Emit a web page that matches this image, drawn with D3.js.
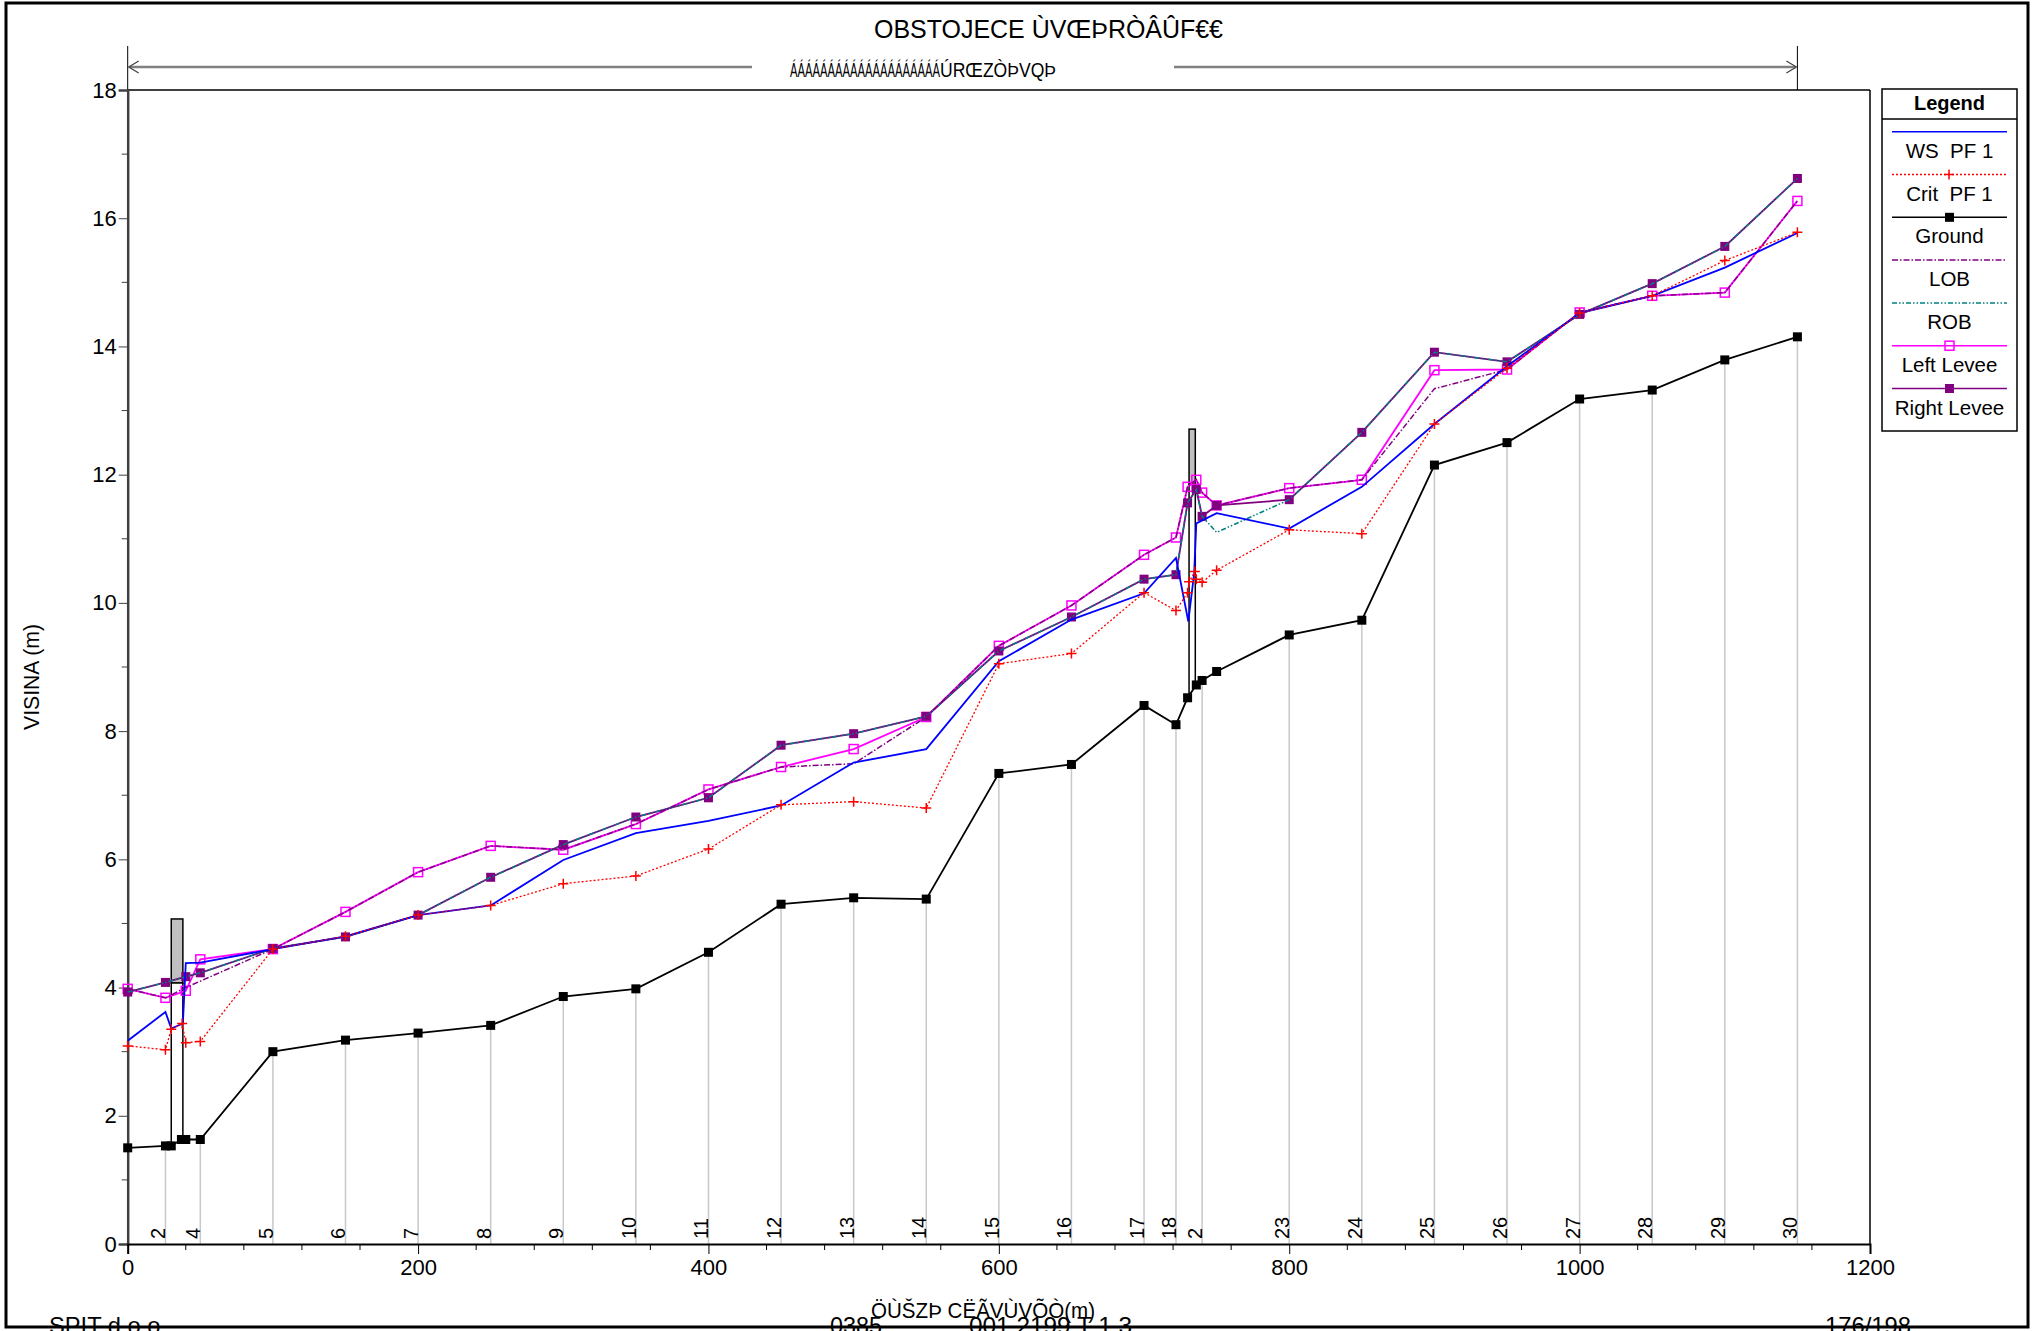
<!DOCTYPE html>
<html><head><meta charset="utf-8">
<script src="https://cdn.jsdelivr.net/npm/d3@7"></script>
<style>
html,body{margin:0;padding:0;background:#fff;}
svg{display:block;}
text{font-family:"Liberation Sans",Arial,sans-serif;}
</style></head>
<body>
<svg id="chart" width="2040" height="1331"></svg>
<script>
// ---------- DATA ----------
const titleText = "OBSTOJECE ÙVŒÞRÒÂÛF€€";
const arrowTextA = "ÁÁÁÁÁÁÁÁÁÁÁÁÁÁÁÁÁÁÁÁ";
const arrowTextB = "ÚRŒZÒÞVQÞ";
const yAxisTitle = "VISINA (m)";
const xAxisTitle = "ÖÙŠZÞ CËÃVÙVÕÒ(m)";
const footerTexts = ["SPIT d.o.o.", "0385", "001 2199 T 1.3", "176/198"];

const xTicks = [0, 200, 400, 600, 800, 1000, 1200];
const yTicks = [0, 2, 4, 6, 8, 10, 12, 14, 16, 18];

const groundX = [0,26,30,37,40,50,100,150,200,250,300,350,400,450,500,550,600,650,700,722,730,736,740,750,800,850,900,950,1000,1050,1100,1150];
const groundY = [1.50,1.53,1.53,1.63,1.63,1.63,3.00,3.18,3.29,3.41,3.86,3.98,4.55,5.30,5.40,5.38,7.34,7.48,8.40,8.10,8.52,8.72,8.79,8.93,9.50,9.73,12.15,12.50,13.18,13.32,13.79,14.15];

const wsX = [0,26,30,38,40,50,100,150,200,250,300,350,400,450,500,550,600,650,700,722,730.5,734.5,736,750,800,850,900,950,1000,1050,1100,1150];
const wsY = [3.17,3.62,3.36,3.44,4.38,4.39,4.60,4.80,5.13,5.28,5.99,6.41,6.60,6.84,7.51,7.72,9.09,9.74,10.15,10.70,9.71,10.46,11.24,11.40,11.16,11.81,12.79,13.69,14.52,14.79,15.23,15.77];

const critX = [0,26,30,37.5,40,50,100,150,200,250,300,350,400,450,500,550,600,650,700,722,730,731,735,736,740,750,800,850,900,950,1000,1050,1100,1150];
const critY = [3.09,3.03,3.35,3.44,3.14,3.16,4.60,4.80,5.13,5.28,5.62,5.74,6.16,6.85,6.90,6.80,9.05,9.21,10.16,9.88,10.16,10.33,10.49,10.37,10.32,10.51,11.14,11.08,12.79,13.66,14.52,14.79,15.34,15.78];

const leveeX = [0,26,40,50,100,150,200,250,300,350,400,450,500,550,600,650,700,722,730,736,740,750,800,850,900,950,1000,1050,1100,1150];
const leftLeveeY = [3.98,3.84,3.95,4.44,4.60,5.18,5.80,6.21,6.15,6.55,7.09,7.44,7.72,8.22,9.33,9.96,10.75,11.02,11.81,11.92,11.72,11.52,11.79,11.92,13.63,13.64,14.53,14.79,14.84,16.27];
const rightLeveeY = [3.93,4.08,4.17,4.23,4.61,4.79,5.13,5.72,6.23,6.66,6.96,7.78,7.96,8.23,9.25,9.78,10.37,10.44,11.56,11.77,11.35,11.52,11.61,12.66,13.91,13.76,14.50,14.98,15.56,16.62];
const lobY = [3.98,3.84,4.00,4.10,4.60,5.18,5.80,6.21,6.15,6.55,7.09,7.44,7.49,8.22,9.33,9.96,10.75,11.02,11.81,11.92,11.72,11.52,11.79,11.92,13.34,13.64,14.53,14.79,14.84,16.27];
const robY = [3.93,4.08,4.17,4.23,4.61,4.79,5.13,5.72,6.23,6.66,6.96,7.78,7.96,8.23,9.25,9.78,10.37,10.44,11.56,11.77,11.35,11.10,11.61,12.66,13.91,13.76,14.50,14.98,15.56,16.62];

const bridgeX0 = [30, 731];
const bridgeX1 = [38, 735.3];
const bridgeTop = [5.07, 12.71];
const bridgeLow = [4.07, 11.85];
const bridgeGroundL = [1.53, 8.55];
const bridgeGroundR = [1.63, 8.70];

const stationX = [26,50,100,150,200,250,300,350,400,450,500,550,600,650,700,722,740,800,850,900,950,1000,1050,1100,1150];
const stationLabels = ["2","4","5","6","7","8","9","10","11","12","13","14","15","16","17","18","2","23","24","25","26","27","28","29","30"];

const legendNames = ["WS  PF 1","Crit  PF 1","Ground","LOB","ROB","Left Levee","Right Levee"];

// ---------- SCALES ----------
const svg = d3.select("#chart");
const x = d3.scaleLinear().domain([0,1200]).range([127.7,1870]);
const y = d3.scaleLinear().domain([0,18]).range([1244,90]);

// frame
svg.append("rect").attr("x",6).attr("y",3).attr("width",2022).attr("height",1324)
  .attr("fill","none").attr("stroke","#000").attr("stroke-width",3);

// title
svg.append("text").attr("x",874).attr("y",38).attr("font-size",26)
  .attr("textLength",349).attr("lengthAdjust","spacingAndGlyphs").text(titleText);

// top arrow
const arrowY = 67;
const ag = svg.append("g");
ag.append("line").attr("x1",x(0)).attr("x2",x(0)).attr("y1",46).attr("y2",y(18)).attr("stroke","#000").attr("stroke-width",1);
ag.append("line").attr("x1",x(1150)).attr("x2",x(1150)).attr("y1",46).attr("y2",y(18)).attr("stroke","#000").attr("stroke-width",1);
ag.append("line").attr("x1",x(0)+2).attr("x2",752).attr("y1",arrowY).attr("y2",arrowY).attr("stroke","#808080").attr("stroke-width",2.5);
ag.append("line").attr("x1",1174).attr("x2",x(1150)-2).attr("y1",arrowY).attr("y2",arrowY).attr("stroke","#808080").attr("stroke-width",2.5);
ag.append("path").attr("d",`M${x(0)+11},${arrowY-6} L${x(0)+1},${arrowY} L${x(0)+11},${arrowY+6}`).attr("fill","none").attr("stroke","#404040").attr("stroke-width",1.2);
ag.append("path").attr("d",`M${x(1150)-11},${arrowY-6} L${x(1150)-1},${arrowY} L${x(1150)-11},${arrowY+6}`).attr("fill","none").attr("stroke","#404040").attr("stroke-width",1.2);
ag.append("text").attr("x",790).attr("y",77).attr("font-size",20)
  .attr("textLength",150).attr("lengthAdjust","spacingAndGlyphs").text(arrowTextA);
ag.append("text").attr("x",940).attr("y",77).attr("font-size",20)
  .attr("textLength",116).attr("lengthAdjust","spacingAndGlyphs").text(arrowTextB);

// station gray lines
const gIdx = v => groundX.indexOf(v);
svg.append("g").selectAll("line").data(stationX).join("line")
  .attr("x1",d=>x(d)).attr("x2",d=>x(d))
  .attr("y1",d=>y(groundY[gIdx(d)])).attr("y2",y(0))
  .attr("stroke","#c8c8c8").attr("stroke-width",1.5);

// station labels
svg.append("g").selectAll("text").data(stationX).join("text")
  .attr("transform",d=>`translate(${x(d)},1239) rotate(-90)`)
  .attr("font-size",20).text((d,i)=>stationLabels[i]);

// bridges
const bg = svg.append("g");
bridgeX0.forEach((bx,i)=>{
  bg.append("rect").attr("x",x(bx)).attr("y",y(bridgeTop[i]))
    .attr("width",x(bridgeX1[i])-x(bx)).attr("height",y(bridgeLow[i])-y(bridgeTop[i]))
    .attr("fill","#c0c0c0").attr("stroke","#000").attr("stroke-width",1.5);
  bg.append("path").attr("d",`M${x(bx)},${y(bridgeGroundL[i])} L${x(bx)},${y(bridgeLow[i])} L${x(bridgeX1[i])},${y(bridgeLow[i])} L${x(bridgeX1[i])},${y(bridgeGroundR[i])}`)
    .attr("fill","#fff").attr("stroke","#000").attr("stroke-width",1.5);
});

// axes frame
svg.append("line").attr("x1",x(0)).attr("x2",x(1200)).attr("y1",y(18)).attr("y2",y(18)).attr("stroke","#000").attr("stroke-width",1.5);
svg.append("line").attr("x1",x(1200)).attr("x2",x(1200)).attr("y1",y(18)).attr("y2",y(0)).attr("stroke","#000").attr("stroke-width",1.5);

// y axis
const yAxis = d3.axisLeft(y).tickValues(yTicks).tickSize(9).tickPadding(2).tickFormat(d3.format("d"));
const yg = svg.append("g").attr("transform",`translate(${x(0)},0)`).call(yAxis);
yg.select(".domain").attr("stroke","#404040").attr("stroke-width",2.5);
yg.selectAll(".tick line").attr("stroke","#404040").attr("stroke-width",1);
yg.selectAll(".tick text").attr("font-size",22).attr("font-family","Liberation Sans, Arial").attr("fill","#000");
const yMinor = d3.range(1,18,2);
svg.append("g").selectAll("line").data(yMinor).join("line")
  .attr("x1",x(0)-6).attr("x2",x(0)).attr("y1",d=>y(d)).attr("y2",d=>y(d)).attr("stroke","#404040");

// x axis
const xAxis = d3.axisBottom(x).tickValues(xTicks).tickSize(10).tickPadding(5).tickFormat(d3.format("d"));
const xg = svg.append("g").attr("transform",`translate(0,${y(0)})`).call(xAxis);
xg.select(".domain").attr("stroke","#000").attr("stroke-width",2);
xg.selectAll(".tick line").attr("stroke","#000");
xg.selectAll(".tick text").attr("font-size",22).attr("font-family","Liberation Sans, Arial").attr("fill","#000");
const xMinor = d3.range(40,1200,40).filter(v=>v%200!==0);
svg.append("g").selectAll("line").data(xMinor).join("line")
  .attr("x1",d=>x(d)).attr("x2",d=>x(d)).attr("y1",y(0)).attr("y2",y(0)+6).attr("stroke","#000");

// axis titles
svg.append("text").attr("transform",`translate(39,${677+53}) rotate(-90)`).attr("font-size",22)
  .attr("textLength",106).attr("lengthAdjust","spacingAndGlyphs").text(yAxisTitle);
svg.append("text").attr("x",871).attr("y",1318).attr("font-size",22)
  .attr("textLength",224).attr("lengthAdjust","spacingAndGlyphs").text(xAxisTitle);

// footer
const footX = [49, 830, 969, 1825];
const footW = [118, 52, 163, 86];
footerTexts.forEach((t,i)=>{
  svg.append("text").attr("x",footX[i]).attr("y",1334).attr("font-size",24)
    .attr("textLength",footW[i]).attr("lengthAdjust","spacingAndGlyphs").text(t);
});

// ---------- SERIES ----------
const line = d3.line().x(d=>x(d[0])).y(d=>y(d[1]));
const zip = (a,b)=>a.map((v,i)=>[v,b[i]]);
const sq = 9;
function squares(g, pts, fill, stroke){
  g.selectAll(null).data(pts).join("rect")
    .attr("x",d=>x(d[0])-sq/2).attr("y",d=>y(d[1])-sq/2).attr("width",sq).attr("height",sq)
    .attr("fill",fill).attr("stroke",stroke).attr("stroke-width",fill==="none"?1.5:0);
}
function crosses(g, pts, color){
  g.selectAll(null).data(pts).join("path")
    .attr("d",d=>{const cx=x(d[0]),cy=y(d[1]);return `M${cx-5},${cy}H${cx+5}M${cx},${cy-5}V${cy+5}`;})
    .attr("stroke",color).attr("stroke-width",1.5).attr("fill","none");
}

const sg = svg.append("g");
// left levee
const ll = zip(leveeX,leftLeveeY);
sg.append("path").attr("d",line(ll)).attr("fill","none").attr("stroke","#ff00ff").attr("stroke-width",1.8);
squares(sg.append("g"), ll, "none", "#ff00ff");
// right levee
const rl = zip(leveeX,rightLeveeY);
sg.append("path").attr("d",line(rl)).attr("fill","none").attr("stroke","#800080").attr("stroke-width",1.8);
squares(sg.append("g"), rl, "#800080", "#800080");
// ROB
sg.append("path").attr("d",line(zip(leveeX,robY))).attr("fill","none").attr("stroke","#008080").attr("stroke-width",1.5).attr("stroke-dasharray","5,2,1.5,2,1.5,2");
// LOB
sg.append("path").attr("d",line(zip(leveeX,lobY))).attr("fill","none").attr("stroke","#800080").attr("stroke-width",1.5).attr("stroke-dasharray","6,2,1.5,2");
// ground
const gp = zip(groundX,groundY);
sg.append("path").attr("d",line(gp)).attr("fill","none").attr("stroke","#000").attr("stroke-width",1.8);
squares(sg.append("g"), gp, "#000", "#000");
// WS
sg.append("path").attr("d",line(zip(wsX,wsY))).attr("fill","none").attr("stroke","#0000ff").attr("stroke-width",1.8);
// Crit
const cp = zip(critX,critY);
sg.append("path").attr("d",line(cp)).attr("fill","none").attr("stroke","#ff0000").attr("stroke-width",1.3).attr("stroke-dasharray","2,2");
crosses(sg.append("g"), cp, "#ff0000");

// ---------- LEGEND ----------
const lg = svg.append("g");
lg.append("rect").attr("x",1882).attr("y",89).attr("width",135).attr("height",342)
  .attr("fill","#fff").attr("stroke","#000").attr("stroke-width",1.5);
lg.append("line").attr("x1",1882).attr("x2",2017).attr("y1",119).attr("y2",119).attr("stroke","#000").attr("stroke-width",1.5);
lg.append("text").attr("x",1949.5).attr("y",110).attr("text-anchor","middle").attr("font-size",20).attr("font-weight","bold").text("Legend");
const legStyles = [
  {c:"#0000ff",dash:null,m:null},
  {c:"#ff0000",dash:"2,2",m:"cross"},
  {c:"#000",dash:null,m:"fill"},
  {c:"#800080",dash:"6,2,1.5,2",m:null},
  {c:"#008080",dash:"5,2,1.5,2,1.5,2",m:null},
  {c:"#ff00ff",dash:null,m:"open"},
  {c:"#800080",dash:null,m:"fill"}
];
legendNames.forEach((n,i)=>{
  const ly = 131.7 + i*42.8;
  const st = legStyles[i];
  const l = lg.append("line").attr("x1",1892).attr("x2",2007).attr("y1",ly).attr("y2",ly)
    .attr("stroke",st.c).attr("stroke-width",1.5);
  if(st.dash) l.attr("stroke-dasharray",st.dash);
  if(st.m==="cross"){
    lg.append("path").attr("d",`M1944,${ly}H1954M1949,${ly-5}V${ly+5}`).attr("stroke",st.c).attr("stroke-width",1.5);
  } else if(st.m==="fill"){
    lg.append("rect").attr("x",1949.5-sq/2).attr("y",ly-sq/2).attr("width",sq).attr("height",sq).attr("fill",st.c);
  } else if(st.m==="open"){
    lg.append("rect").attr("x",1949.5-sq/2).attr("y",ly-sq/2).attr("width",sq).attr("height",sq).attr("fill","none").attr("stroke",st.c).attr("stroke-width",1.5);
  }
  lg.append("text").attr("x",1949.5).attr("y",ly+26).attr("text-anchor","middle").attr("font-size",20.5)
    .style("white-space","pre").text(n);
});
</script>
</body></html>
